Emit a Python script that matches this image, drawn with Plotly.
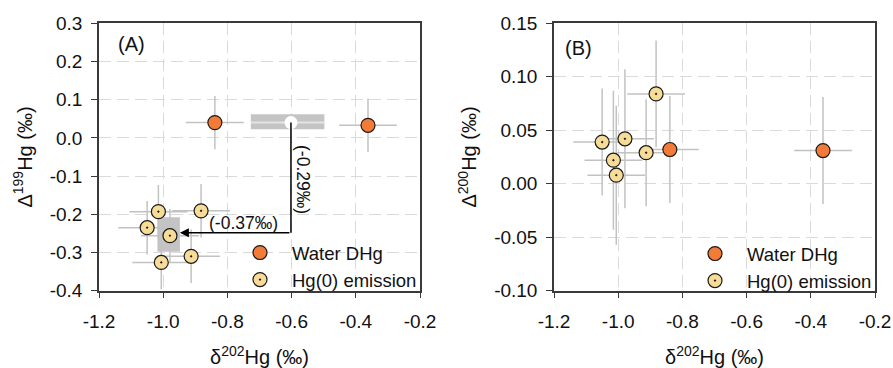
import plotly.graph_objects as go

# ---------------- data ----------------
water_x = [-0.839, -0.362]
water_d199 = [0.040, 0.033]
water_d200 = [0.032, 0.031]
water_ex = [0.09, 0.09]
water_ey199 = [0.07, 0.07]
water_ey200 = [0.05, 0.05]

hg_x = [-1.015, -0.882, -1.050, -0.979, -0.913, -1.006]
hg_d199 = [-0.193, -0.191, -0.235, -0.256, -0.310, -0.326]
hg_d200 = [0.022, 0.084, 0.039, 0.042, 0.029, 0.008]
hg_ex = [0.09, 0.09, 0.09, 0.09, 0.09, 0.09]
hg_ey199 = [0.07, 0.07, 0.07, 0.07, 0.07, 0.07]
hg_ey200 = [0.065, 0.05, 0.05, 0.065, 0.05, 0.065]

# mean of water DHg (panel A) and its spread box
water_mean = [-0.602, 0.040]
water_box_x = [-0.727, -0.498]
water_box_y = [0.0225, 0.062]
# Hg(0) emission mean box
hg_box_x = [-1.018, -0.948]
hg_box_y = [-0.298, -0.208]
arrow_corner_y = -0.248
shift_labels = ["(-0.29‰)", "(-0.37‰)"]

x_ticks = [-1.2, -1.0, -0.8, -0.6, -0.4, -0.2]
x_ticktext = ["-1.2", "-1.0", "-0.8", "-0.6", "-0.4", "-0.2"]
yA_ticks = [-0.4, -0.3, -0.2, -0.1, 0.0, 0.1, 0.2, 0.3]
yA_ticktext = ["-0.4", "-0.3", "-0.2", "-0.1", "0.0", "0.1", "0.2", "0.3"]
yB_ticks = [-0.10, -0.05, 0.00, 0.05, 0.10, 0.15]
yB_ticktext = ["-0.10", "-0.05", "0.00", "0.05", "0.10", "0.15"]

# ---------------- styles ----------------
W, H = 893, 368
FONT = "Liberation Sans, Arial, sans-serif"
ORANGE = "#F27B38"
PALE = "#F7DC97"
EDGE = "#1a1a1a"
ERRC = "#C2C2C2"
BOXC = "#C4C4C4"
TICKSIZE = 19

fig = go.Figure()

def err_trace(x, y, ex, ey, xa, ya):
    return go.Scatter(
        x=x, y=y, mode="markers", xaxis=xa, yaxis=ya, showlegend=False,
        marker=dict(size=1, opacity=0), hoverinfo="skip",
        error_x=dict(type="data", array=ex, visible=True, color=ERRC, thickness=1.5, width=0),
        error_y=dict(type="data", array=ey, visible=True, color=ERRC, thickness=1.5, width=0),
    )

# error bars first (below all markers)
fig.add_trace(err_trace(water_x, water_d199, water_ex, water_ey199, "x", "y"))
fig.add_trace(err_trace(hg_x, hg_d199, hg_ex, hg_ey199, "x", "y"))
fig.add_trace(err_trace(water_x, water_d200, water_ex, water_ey200, "x2", "y2"))
fig.add_trace(err_trace(hg_x, hg_d200, hg_ex, hg_ey200, "x2", "y2"))

# white mean marker panel A
fig.add_trace(go.Scatter(x=[water_mean[0]], y=[water_mean[1]], mode="markers", xaxis="x", yaxis="y",
                         showlegend=False, marker=dict(size=13, color="white", line=dict(width=0))))

water_marker = dict(size=14, color=ORANGE, line=dict(color=EDGE, width=1.2), symbol="circle")
hg_marker = dict(size=14, color=PALE, line=dict(color=EDGE, width=1.2), symbol="circle-dot")

fig.add_trace(go.Scatter(x=water_x, y=water_d199, mode="markers", name="Water DHg",
                         xaxis="x", yaxis="y", marker=water_marker, legend="legend"))
fig.add_trace(go.Scatter(x=hg_x, y=hg_d199, mode="markers", name="Hg(0) emission",
                         xaxis="x", yaxis="y", marker=hg_marker, legend="legend"))
fig.add_trace(go.Scatter(x=water_x, y=water_d200, mode="markers", name="Water DHg",
                         xaxis="x2", yaxis="y2", marker=water_marker, legend="legend2"))
fig.add_trace(go.Scatter(x=hg_x, y=hg_d200, mode="markers", name="Hg(0) emission",
                         xaxis="x2", yaxis="y2", marker=hg_marker, legend="legend2"))

# shapes (panel A)
shapes = [
    dict(type="rect", xref="x", yref="y", x0=water_box_x[0], x1=water_box_x[1],
         y0=water_box_y[0], y1=water_box_y[1], fillcolor=BOXC, line=dict(width=0), layer="between"),
    dict(type="line", xref="x", yref="y", x0=water_box_x[0], x1=water_box_x[1],
         y0=water_mean[1], y1=water_mean[1], line=dict(color="#E4E4E4", width=2), layer="between"),
    dict(type="rect", xref="x", yref="y", x0=hg_box_x[0], x1=hg_box_x[1],
         y0=hg_box_y[0], y1=hg_box_y[1], fillcolor=BOXC, line=dict(width=0), layer="between"),
    dict(type="line", xref="x", yref="y", x0=water_mean[0], x1=water_mean[0],
         y0=water_mean[1], y1=arrow_corner_y, line=dict(color="black", width=1.5), layer="above"),
]

xd_A = [99 / W, 420 / W]
xd_B = [554 / W, 875 / W]
yd = [1 - 290.7 / H, 1 - 23.3 / H]

def xaxis_cfg(domain, anchor):
    return dict(domain=domain, anchor=anchor, range=[-1.2, -0.2], tickvals=x_ticks, ticktext=x_ticktext,
                showline=True, mirror=True, linecolor="#3a3a3a", linewidth=1.5, automargin=False,
                ticks="outside", ticklen=6, tickcolor="#3a3a3a", tickwidth=1.2,
                showgrid=True, gridcolor="#DADADA", gridwidth=1, griddash="12px,6px",
                zeroline=False, ticklabelstandoff=7,
                tickfont=dict(family=FONT, size=TICKSIZE, color="#111"),
                title=dict(text="δ<sup>202</sup>Hg (‰)", font=dict(family=FONT, size=20, color="#111"),
                           standoff=25))

def yaxis_cfg(rng, tv, tt, anchor, title):
    return dict(domain=yd, anchor=anchor, range=rng, tickvals=tv, ticktext=tt,
                showline=True, mirror=True, linecolor="#3a3a3a", linewidth=1.5, automargin=False,
                ticks="outside", ticklen=6, tickcolor="#3a3a3a", tickwidth=1.2,
                showgrid=True, gridcolor="#DADADA", gridwidth=1, griddash="12px,6px",
                zeroline=False, ticklabelstandoff=5,
                tickfont=dict(family=FONT, size=TICKSIZE, color="#111"),
                title=dict(text=title, font=dict(family=FONT, size=20, color="#111"), standoff=12))

annotations = [
    dict(xref="x domain", yref="y domain", x=0.102, y=0.921, text="(A)", showarrow=False,
         xanchor="center", yanchor="middle", font=dict(family=FONT, size=20, color="#111")),
    dict(xref="x2 domain", yref="y2 domain", x=0.0757, y=0.909, text="(B)", showarrow=False,
         xanchor="center", yanchor="middle", font=dict(family=FONT, size=20, color="#111")),
    dict(xref="x", yref="y", x=hg_box_x[1], y=arrow_corner_y, ax=water_mean[0], ay=arrow_corner_y,
         axref="x", ayref="y", text="", showarrow=True, arrowhead=2, arrowsize=1.2, arrowwidth=1.5,
         arrowcolor="black", standoff=0),
    dict(xref="x", yref="y", x=-0.564, y=-0.108, text=shift_labels[0], textangle=90, showarrow=False,
         xanchor="center", yanchor="middle", font=dict(family=FONT, size=17.5, color="#111")),
    dict(xref="x", yref="y", x=-0.751, y=-0.224, text=shift_labels[1], showarrow=False,
         xanchor="center", yanchor="middle", font=dict(family=FONT, size=17.5, color="#111")),
]

legend_common = dict(bgcolor="rgba(0,0,0,0)", borderwidth=0, xanchor="left", yanchor="top",
                     font=dict(family=FONT, size=18.5, color="#111"), itemwidth=54,
                     tracegroupgap=0)

fig.update_layout(
    width=W, height=H, margin=dict(l=0, r=0, t=0, b=0, autoexpand=False),
    paper_bgcolor="white", plot_bgcolor="white",
    xaxis=xaxis_cfg(xd_A, "y"),
    yaxis=yaxis_cfg([-0.4, 0.3], yA_ticks, yA_ticktext, "x", "Δ<sup>199</sup>Hg (‰)"),
    xaxis2=xaxis_cfg(xd_B, "y2"),
    yaxis2=yaxis_cfg([-0.10, 0.15], yB_ticks, yB_ticktext, "x2", "Δ<sup>200</sup>Hg (‰)"),
    shapes=shapes, annotations=annotations,
    legend=dict(x=228 / W, y=1 - 234 / H, **legend_common),
    legend2=dict(x=683 / W, y=1 - 235 / H, **legend_common),
    showlegend=True,
)

fig.write_html("out.html")
